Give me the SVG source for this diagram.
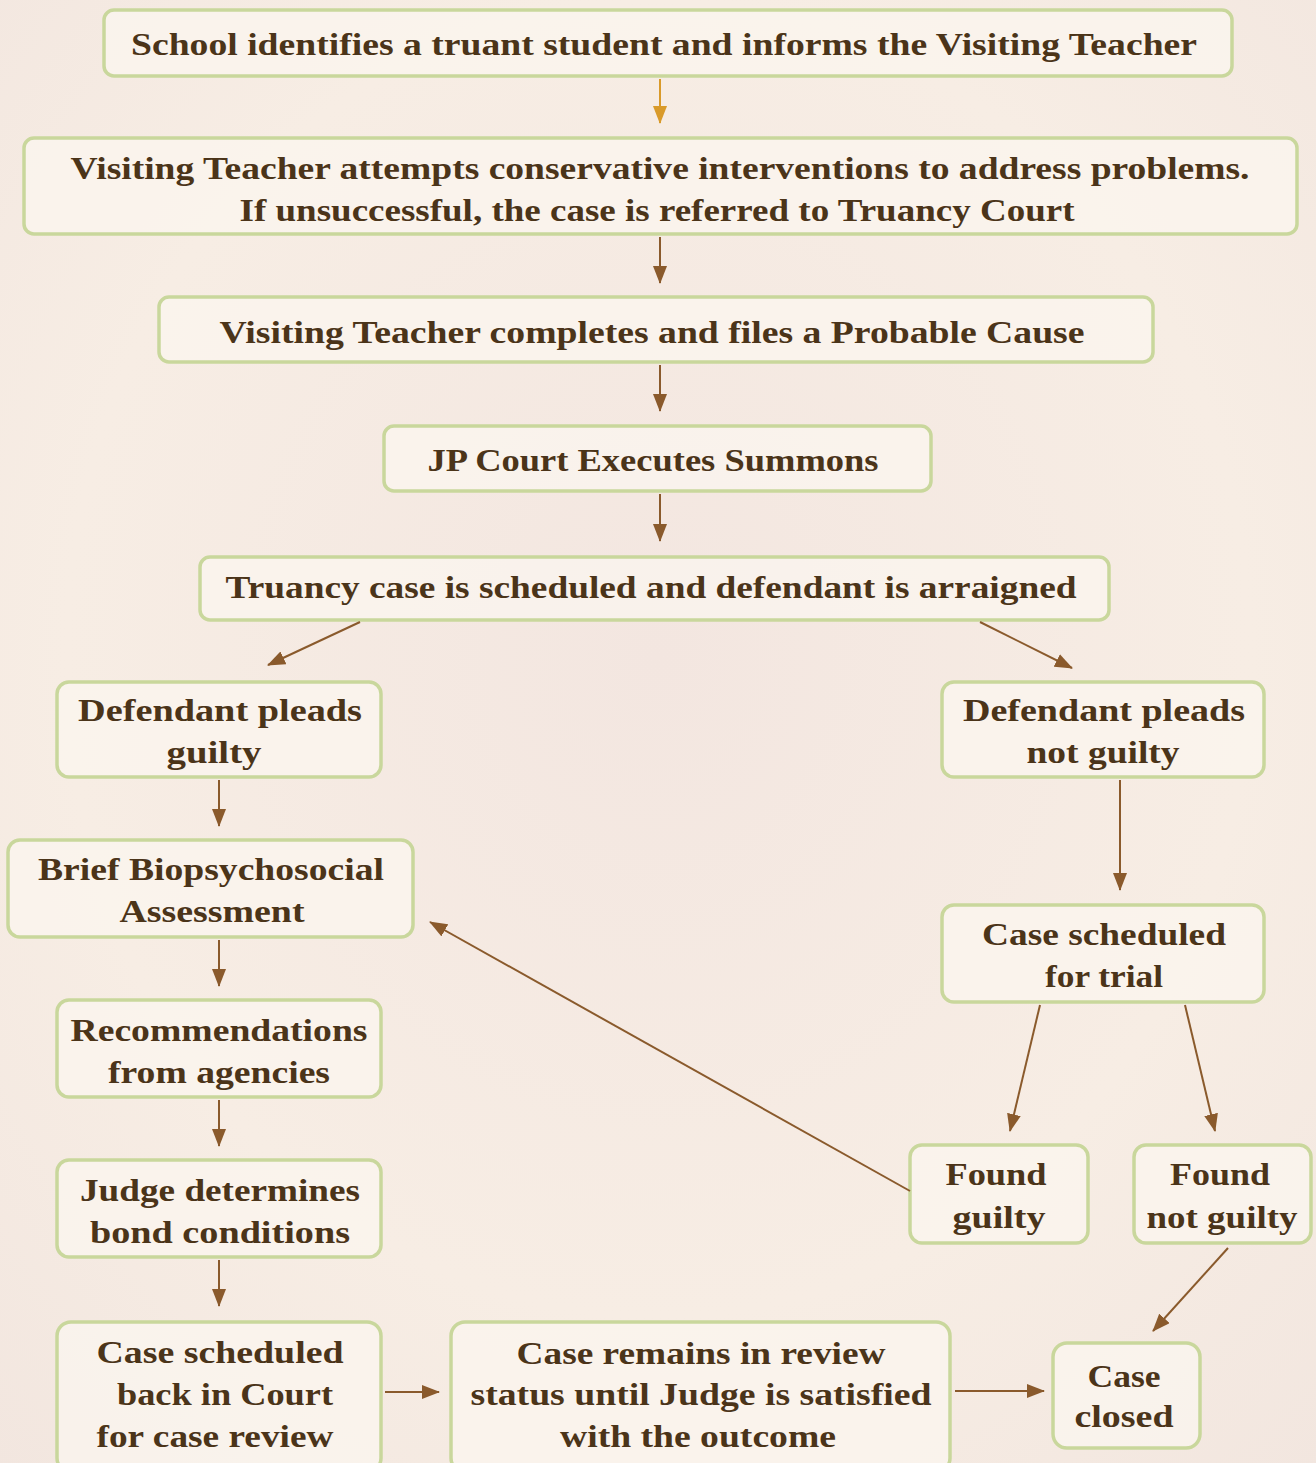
<svg xmlns="http://www.w3.org/2000/svg" width="1316" height="1463" viewBox="0 0 1316 1463">
<defs>
<radialGradient id="bg" cx="0.5" cy="0.45" r="0.75">
<stop offset="0" stop-color="#f3e6e0"/>
<stop offset="0.6" stop-color="#f7ede4"/>
<stop offset="1" stop-color="#f2e6df"/>
</radialGradient>
<marker id="ah" markerUnits="userSpaceOnUse" markerWidth="18" markerHeight="14" refX="17" refY="7" orient="auto">
<path d="M0,0 L18,7 L0,14 z" fill="#8a5a2c"/>
</marker>
<marker id="ahy" markerUnits="userSpaceOnUse" markerWidth="18" markerHeight="14" refX="17" refY="7" orient="auto">
<path d="M0,0 L18,7 L0,14 z" fill="#d99a2a"/>
</marker>
</defs>
<style>
.box{fill:#fbf5ef;fill-opacity:0.75;stroke:#c9d79c;stroke-width:3.5}
.t{font-family:"Liberation Serif","Times New Roman",serif;font-weight:bold;font-size:32px;fill:#4b3419;text-anchor:middle}
.c{stroke:#8a5a2c;stroke-width:2;fill:none;marker-end:url(#ah)}
.cy{stroke:#d99a2a;stroke-width:2;fill:none;marker-end:url(#ahy)}
</style>
<rect width="1316" height="1463" fill="url(#bg)"/>

<g id="n1"><rect class="box" x="104" y="10" width="1128" height="66" rx="10"/>
<text class="t" x="664" y="55" textLength="1066" lengthAdjust="spacingAndGlyphs">School identifies a truant student and informs the Visiting Teacher</text></g>

<g id="n2"><rect class="box" x="24" y="138" width="1273" height="96" rx="10"/>
<text class="t" x="660" y="179" textLength="1179" lengthAdjust="spacingAndGlyphs">Visiting Teacher attempts conservative interventions to address problems.</text>
<text class="t" x="657" y="221" textLength="835" lengthAdjust="spacingAndGlyphs">If unsuccessful, the case is referred to Truancy Court</text></g>

<g id="n3"><rect class="box" x="159" y="297" width="994" height="65" rx="10"/>
<text class="t" x="652" y="343" textLength="865" lengthAdjust="spacingAndGlyphs">Visiting Teacher completes and files a Probable Cause</text></g>

<g id="n4"><rect class="box" x="384" y="426" width="547" height="65" rx="10"/>
<text class="t" x="653" y="471" textLength="451" lengthAdjust="spacingAndGlyphs">JP Court Executes Summons</text></g>

<g id="n5"><rect class="box" x="200" y="557" width="909" height="63" rx="10"/>
<text class="t" x="651" y="598" textLength="851" lengthAdjust="spacingAndGlyphs">Truancy case is scheduled and defendant is arraigned</text></g>

<g id="n6"><rect class="box" x="57" y="682" width="324" height="95" rx="12"/>
<text class="t" x="220" y="721" textLength="284" lengthAdjust="spacingAndGlyphs">Defendant pleads</text>
<text class="t" x="214" y="763" textLength="95" lengthAdjust="spacingAndGlyphs">guilty</text></g>

<g id="n7"><rect class="box" x="942" y="682" width="322" height="95" rx="12"/>
<text class="t" x="1104" y="721" textLength="282" lengthAdjust="spacingAndGlyphs">Defendant pleads</text>
<text class="t" x="1103" y="763" textLength="153" lengthAdjust="spacingAndGlyphs">not guilty</text></g>

<g id="n8"><rect class="box" x="8" y="840" width="405" height="97" rx="12"/>
<text class="t" x="211" y="880" textLength="346" lengthAdjust="spacingAndGlyphs">Brief Biopsychosocial</text>
<text class="t" x="212" y="922" textLength="185" lengthAdjust="spacingAndGlyphs">Assessment</text></g>

<g id="n9"><rect class="box" x="942" y="905" width="322" height="97" rx="12"/>
<text class="t" x="1104" y="945" textLength="244" lengthAdjust="spacingAndGlyphs">Case scheduled</text>
<text class="t" x="1104" y="987" textLength="118" lengthAdjust="spacingAndGlyphs">for trial</text></g>

<g id="n10"><rect class="box" x="57" y="1000" width="324" height="97" rx="12"/>
<text class="t" x="219" y="1041" textLength="297" lengthAdjust="spacingAndGlyphs">Recommendations</text>
<text class="t" x="219" y="1083" textLength="222" lengthAdjust="spacingAndGlyphs">from agencies</text></g>

<g id="n11"><rect class="box" x="57" y="1160" width="324" height="97" rx="12"/>
<text class="t" x="220" y="1201" textLength="280" lengthAdjust="spacingAndGlyphs">Judge determines</text>
<text class="t" x="220" y="1243" textLength="260" lengthAdjust="spacingAndGlyphs">bond conditions</text></g>

<g id="n12"><rect class="box" x="910" y="1145" width="178" height="98" rx="12"/>
<text class="t" x="996" y="1185" textLength="101" lengthAdjust="spacingAndGlyphs">Found</text>
<text class="t" x="999" y="1228" textLength="93" lengthAdjust="spacingAndGlyphs">guilty</text></g>

<g id="n13"><rect class="box" x="1134" y="1145" width="177" height="98" rx="12"/>
<text class="t" x="1220" y="1185" textLength="100" lengthAdjust="spacingAndGlyphs">Found</text>
<text class="t" x="1222" y="1228" textLength="151" lengthAdjust="spacingAndGlyphs">not guilty</text></g>

<g id="n14"><rect class="box" x="57" y="1322" width="324" height="150" rx="14"/>
<text class="t" x="220" y="1363" textLength="247" lengthAdjust="spacingAndGlyphs">Case scheduled</text>
<text class="t" x="225" y="1405" textLength="216" lengthAdjust="spacingAndGlyphs">back in Court</text>
<text class="t" x="215" y="1447" textLength="237" lengthAdjust="spacingAndGlyphs">for case review</text></g>

<g id="n15"><rect class="box" x="451" y="1322" width="499" height="150" rx="14"/>
<text class="t" x="701" y="1364" textLength="369" lengthAdjust="spacingAndGlyphs">Case remains in review</text>
<text class="t" x="701" y="1405" textLength="461" lengthAdjust="spacingAndGlyphs">status until Judge is satisfied</text>
<text class="t" x="698" y="1447" textLength="276" lengthAdjust="spacingAndGlyphs">with the outcome</text></g>

<g id="n16"><rect class="box" x="1053" y="1343" width="147" height="105" rx="14"/>
<text class="t" x="1124" y="1387" textLength="73" lengthAdjust="spacingAndGlyphs">Case</text>
<text class="t" x="1124" y="1427" textLength="99" lengthAdjust="spacingAndGlyphs">closed</text></g>

<g id="connectors">
<line class="cy" x1="660" y1="79" x2="660" y2="123"/>
<line class="c" x1="660" y1="237" x2="660" y2="283"/>
<line class="c" x1="660" y1="365" x2="660" y2="411"/>
<line class="c" x1="660" y1="494" x2="660" y2="541"/>
<line class="c" x1="360" y1="622" x2="268" y2="665"/>
<line class="c" x1="980" y1="622" x2="1072" y2="668"/>
<line class="c" x1="219" y1="780" x2="219" y2="826"/>
<line class="c" x1="1120" y1="780" x2="1120" y2="890"/>
<line class="c" x1="219" y1="940" x2="219" y2="986"/>
<line class="c" x1="219" y1="1100" x2="219" y2="1146"/>
<line class="c" x1="219" y1="1260" x2="219" y2="1306"/>
<line class="c" x1="1040" y1="1005" x2="1010" y2="1131"/>
<line class="c" x1="1185" y1="1005" x2="1215" y2="1131"/>
<line class="c" x1="910" y1="1191" x2="430" y2="922"/>
<line class="c" x1="1228" y1="1248" x2="1153" y2="1331"/>
<line class="c" x1="385" y1="1392" x2="439" y2="1392"/>
<line class="c" x1="955" y1="1391" x2="1044" y2="1391"/>
</g>
</svg>
